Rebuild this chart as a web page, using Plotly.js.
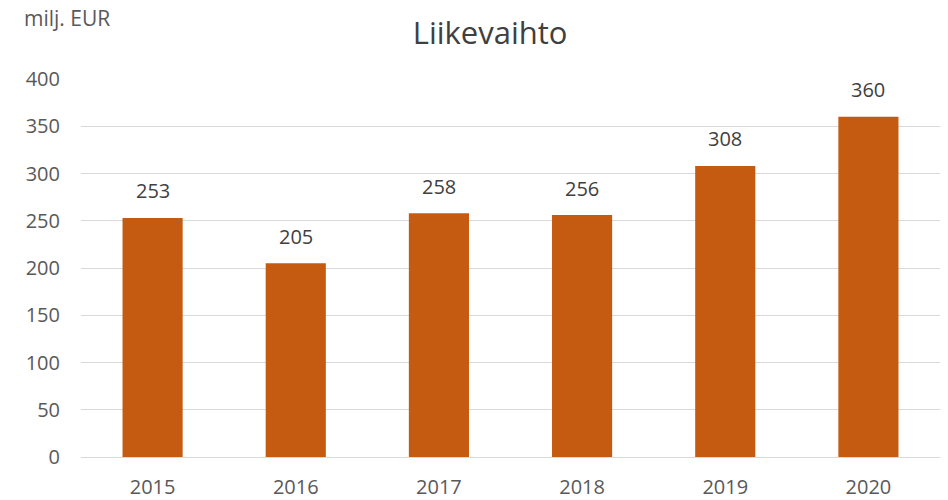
<!DOCTYPE html>
<html>
<head>
<meta charset="utf-8">
<script src="https://cdn.plot.ly/plotly-3.0.1.min.js"></script>
<style>html,body{margin:0;padding:0;background:#fff;}#chart{width:948px;height:500px;}</style>
</head>
<body>
<div id="chart"></div>
<script>
const years = ["2015", "2016", "2017", "2018", "2019", "2020"];
const revenue = [253, 205, 258, 256, 308, 360];
const yTicks = [0, 50, 100, 150, 200, 250, 300, 350, 400];

const fontFam = "Open Sans, Noto Sans, sans-serif";

const trace = {
  type: "bar",
  x: years,
  y: revenue,
  marker: {color: "#C55A11"},
  hoverinfo: "none"
};

const labelAnns = years.map((yr, i) => ({
  x: i, y: revenue[i], xref: "x", yref: "y",
  text: String(revenue[i]),
  showarrow: false,
  yanchor: "middle",
  yshift: 27,
  font: {family: fontFam, size: 20, color: "#404040"}
}));

const layout = {
  width: 948,
  height: 500,
  margin: {l: 81, r: 8, t: 79, b: 42.5},
  paper_bgcolor: "#ffffff",
  plot_bgcolor: "#ffffff",
  bargap: 0.58,
  showlegend: false,
  title: {
    text: "Liikevaihto",
    font: {family: fontFam, size: 31, color: "#404040"},
    x: 0.517, xanchor: "center",
    y: 0.934, yanchor: "middle"
  },
  xaxis: {
    type: "category",
    categoryorder: "array",
    categoryarray: years,
    range: [-0.5, years.length - 0.5],
    showgrid: false,
    zeroline: false,
    showline: false,
    ticks: "",
    tickfont: {family: fontFam, size: 20, color: "#595959"},
    ticklabelstandoff: 16
  },
  yaxis: {
    range: [0, 400],
    tickvals: yTicks,
    ticktext: yTicks.map(String),
    showgrid: true,
    gridcolor: "#d9d9d9",
    gridwidth: 1,
    zeroline: true,
    zerolinecolor: "#d9d9d9",
    zerolinewidth: 1,
    showline: false,
    ticks: "",
    tickfont: {family: fontFam, size: 20, color: "#595959"},
    ticklabelstandoff: 20
  },
  annotations: labelAnns.concat([{
    text: "milj. EUR",
    xref: "paper", yref: "paper",
    x: -0.069, y: 1.161,
    xanchor: "left", yanchor: "middle",
    showarrow: false,
    font: {family: fontFam, size: 21, color: "#595959"}
  }])
};

Plotly.newPlot("chart", [trace], layout, {displayModeBar: false, staticPlot: true});
</script>
</body>
</html>
